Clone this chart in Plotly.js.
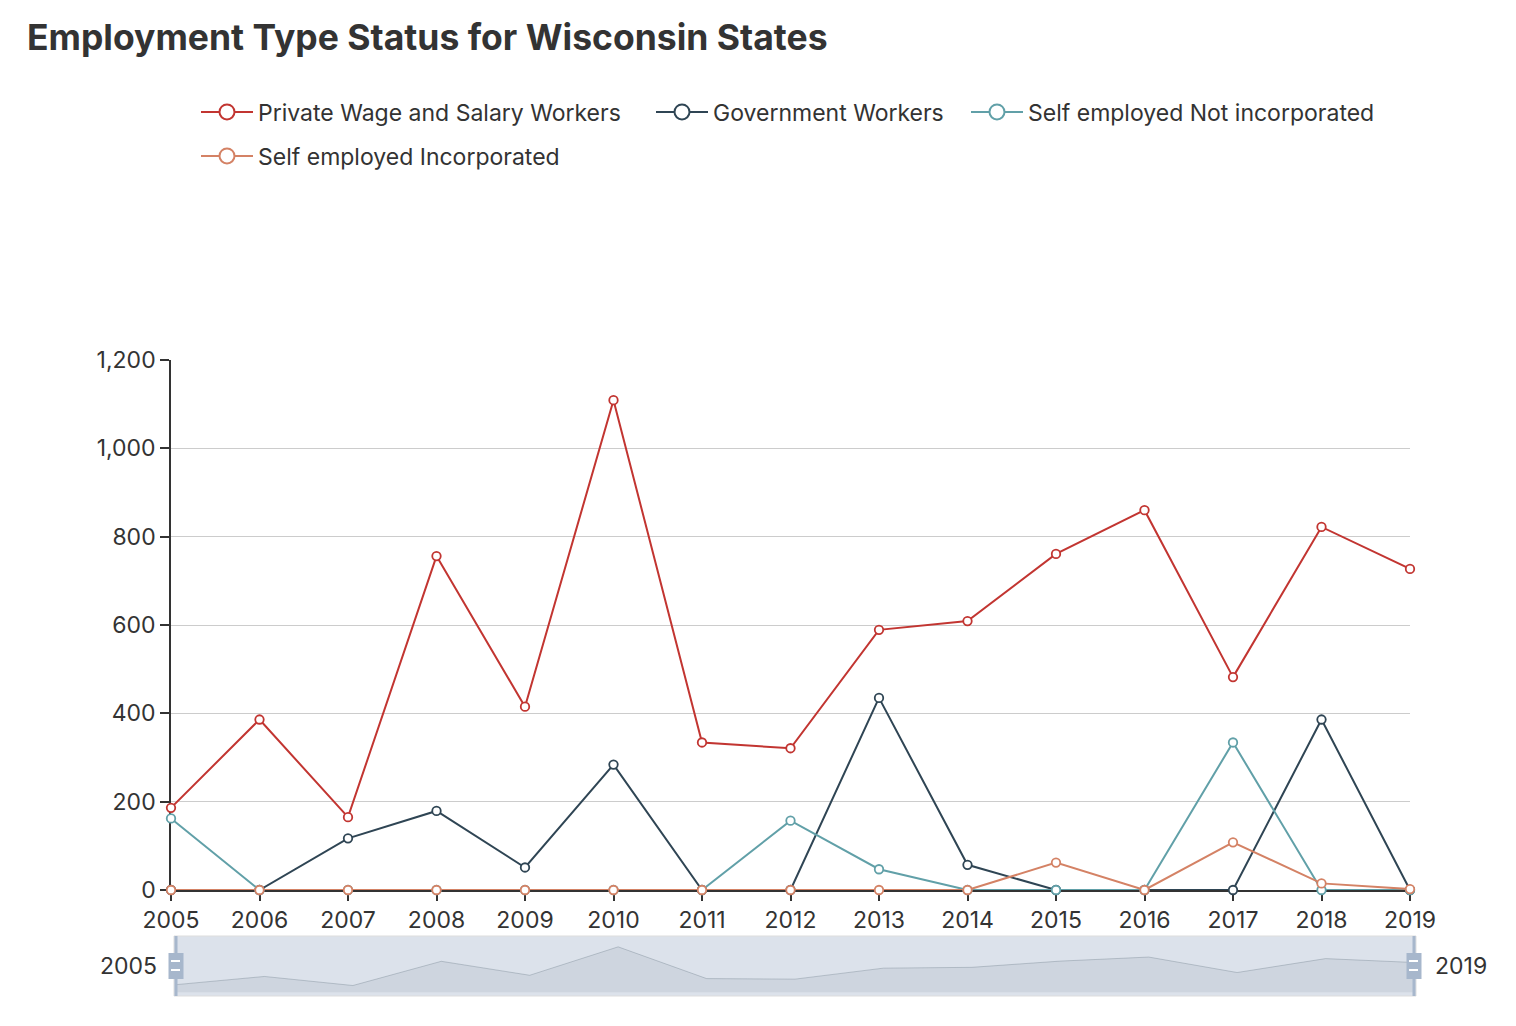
<!DOCTYPE html>
<html>
<head>
<meta charset="utf-8">
<script src="https://cdn.plot.ly/plotly-3.0.1.min.js"></script>
<style>
  html, body { margin: 0; padding: 0; background: #fff; }
  #chart { width: 1516px; height: 1026px; }
</style>
</head>
<body>
<div id="chart"></div>
<script>
// ---- Data ----
const years = [2005, 2006, 2007, 2008, 2009, 2010, 2011, 2012, 2013, 2014, 2015, 2016, 2017, 2018, 2019];
const privateWage = [186, 386, 165, 756, 415, 1109, 334, 321, 589, 609, 761, 860, 482, 822, 727];
const government = [0, 0, 117, 179, 51, 284, 0, 0, 435, 57, 0, 0, 0, 386, 0];
const selfNotIncorporated = [162, 0, 0, 0, 0, 0, 0, 157, 47, 0, 0, 0, 334, 0, 0];
const selfIncorporated = [0, 0, 0, 0, 0, 0, 0, 0, 0, 0, 62, 0, 108, 15, 2];
const seriesNames = ['Private Wage and Salary Workers', 'Government Workers', 'Self employed Not incorporated', 'Self employed Incorporated'];
const yTickVals = [0, 200, 400, 600, 800, 1000, 1200];

// ---- Styling ----
const colors = ['#c23531', '#2f4554', '#61a0a8', '#d48265'];
const FONT = 'Inter, "Liberation Sans", Arial, sans-serif';
const W = 1516, H = 1026;
const px = v => v / W;
const py = v => 1 - v / H;

const seriesData = [privateWage, government, selfNotIncorporated, selfIncorporated];
const legendIds = ['legend', 'legend2', 'legend3', 'legend4'];
// legend entry placement (left edge, vertical centre) in pixels
const legendPos = [[196, 112], [651, 112], [966, 112], [196, 156]];

const traces = [];
seriesData.forEach((vals, i) => {
  traces.push({
    type: 'scatter', mode: 'lines+markers',
    x: years, y: vals, name: seriesNames[i],
    xaxis: 'x', yaxis: 'y',
    showlegend: false, cliponaxis: false,
    line: { color: colors[i], width: 2 },
    marker: { symbol: 'circle', size: 8.5, color: '#ffffff', line: { color: colors[i], width: 1.8 } },
    hoverinfo: 'x+y+name'
  });
});
// legend-only entries (bigger legend icons)
seriesData.forEach((vals, i) => {
  traces.push({
    type: 'scatter', mode: 'lines+markers',
    x: [null], y: [null], name: seriesNames[i],
    xaxis: 'x', yaxis: 'y',
    showlegend: true, legend: legendIds[i],
    line: { color: colors[i], width: 2 },
    marker: { symbol: 'circle', size: 15, color: '#ffffff', line: { color: colors[i], width: 2 } },
    hoverinfo: 'skip'
  });
});
// data-zoom shadow (from the first series)
traces.push({
  type: 'scatter', mode: 'lines',
  x: years, y: privateWage,
  xaxis: 'x2', yaxis: 'y2',
  showlegend: false, hoverinfo: 'skip',
  fill: 'tozeroy', fillcolor: 'rgba(47,69,84,0.08)',
  line: { color: 'rgba(47,69,84,0.22)', width: 1 }
});

const legendCommon = {
  orientation: 'h', xref: 'container', yref: 'container',
  xanchor: 'left', yanchor: 'middle',
  font: { family: FONT, size: 23, color: '#333' },
  itemwidth: 52, itemclick: false, itemdoubleclick: false,
  bgcolor: 'rgba(0,0,0,0)', borderwidth: 0
};

const shapes = [
  { type: 'rect', xref: 'paper', yref: 'paper', x0: px(174), x1: px(1416), y0: py(996), y1: py(936),
    fillcolor: 'rgb(220,226,235)', line: { color: '#dddddd', width: 1 }, layer: 'below' },
  { type: 'rect', xref: 'paper', yref: 'paper', x0: px(174.5), x1: px(177.5), y0: py(996), y1: py(936),
    fillcolor: '#a7b7cc', line: { width: 0 }, layer: 'above' },
  { type: 'rect', xref: 'paper', yref: 'paper', x0: px(1412.5), x1: px(1415.5), y0: py(996), y1: py(936),
    fillcolor: '#a7b7cc', line: { width: 0 }, layer: 'above' },
  { type: 'rect', xref: 'paper', yref: 'paper', x0: px(168.5), x1: px(183.5), y0: py(979), y1: py(953),
    fillcolor: '#a7b7cc', line: { width: 0 }, layer: 'above' },
  { type: 'rect', xref: 'paper', yref: 'paper', x0: px(1406.5), x1: px(1421.5), y0: py(979), y1: py(953),
    fillcolor: '#a7b7cc', line: { width: 0 }, layer: 'above' },
  { type: 'rect', xref: 'paper', yref: 'paper', x0: px(171), x1: px(180), y0: py(962), y1: py(960),
    fillcolor: '#ffffff', line: { width: 0 }, layer: 'above' },
  { type: 'rect', xref: 'paper', yref: 'paper', x0: px(171), x1: px(180), y0: py(971), y1: py(969),
    fillcolor: '#ffffff', line: { width: 0 }, layer: 'above' },
  { type: 'rect', xref: 'paper', yref: 'paper', x0: px(1409), x1: px(1418), y0: py(962), y1: py(960),
    fillcolor: '#ffffff', line: { width: 0 }, layer: 'above' },
  { type: 'rect', xref: 'paper', yref: 'paper', x0: px(1409), x1: px(1418), y0: py(971), y1: py(969),
    fillcolor: '#ffffff', line: { width: 0 }, layer: 'above' }
];

const layout = {
  width: W, height: H,
  margin: { l: 0, r: 0, t: 0, b: 0, pad: 0, autoexpand: false },
  paper_bgcolor: '#ffffff', plot_bgcolor: 'rgba(0,0,0,0)',
  font: { family: FONT, color: '#333' },
  title: {
    text: '<b>Employment Type Status for Wisconsin States</b>',
    xref: 'container', yref: 'container',
    x: px(27), xanchor: 'left', y: py(38), yanchor: 'middle',
    font: { family: FONT, size: 35.5, color: '#333' }
  },
  xaxis: {
    domain: [px(171), px(1410)], range: [2005, 2019],
    tickmode: 'array', tickvals: years, ticktext: years.map(String),
    showgrid: false, zeroline: false,
    showline: true, linecolor: '#333', linewidth: 1.5, layer: 'below traces',
    ticks: 'outside', ticklen: 9, tickcolor: '#333', tickwidth: 1.5,
    tickfont: { family: FONT, size: 23, color: '#333' },
    fixedrange: true, anchor: 'y'
  },
  yaxis: {
    domain: [py(890), py(360)], range: [0, 1200],
    tickmode: 'array', tickvals: yTickVals, tickformat: ',d',
    showgrid: true, gridcolor: '#cccccc', gridwidth: 1,
    zeroline: false,
    showline: true, linecolor: '#333', linewidth: 1.5, layer: 'below traces',
    ticks: 'outside', ticklen: 9, tickcolor: '#333', tickwidth: 1.5,
    tickfont: { family: FONT, size: 23, color: '#333' },
    fixedrange: true, anchor: 'x'
  },
  xaxis2: {
    domain: [px(176), px(1414)], range: [2005, 2019],
    visible: false, showgrid: false, zeroline: false, fixedrange: true, anchor: 'y2'
  },
  yaxis2: {
    domain: [py(996), py(936)], range: [-91, 1374],
    visible: false, showgrid: false, zeroline: false, fixedrange: true, anchor: 'x2'
  },
  shapes: shapes,
  annotations: [
    { xref: 'paper', yref: 'paper', x: px(159), y: py(966), xanchor: 'right', yanchor: 'middle',
      text: String(years[0]), showarrow: false, font: { family: FONT, size: 23, color: '#333' } },
    { xref: 'paper', yref: 'paper', x: px(1433), y: py(966), xanchor: 'left', yanchor: 'middle',
      text: String(years[years.length - 1]), showarrow: false, font: { family: FONT, size: 23, color: '#333' } }
  ],
  hovermode: 'closest'
};
legendIds.forEach((id, i) => {
  layout[id] = Object.assign({}, legendCommon, { x: px(legendPos[i][0]), y: py(legendPos[i][1]) });
});

Plotly.newPlot('chart', traces, layout, { displayModeBar: false, responsive: false });
</script>
</body>
</html>
